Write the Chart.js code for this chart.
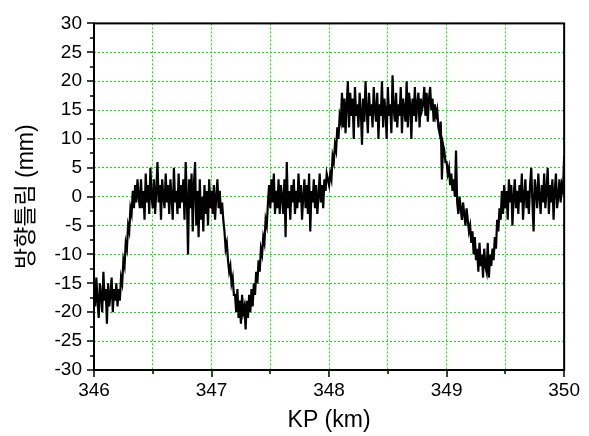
<!DOCTYPE html>
<html>
<head>
<meta charset="utf-8">
<script src="https://cdn.jsdelivr.net/npm/chart.js@4"></script>
<style>
  html, body { margin: 0; padding: 0; background: #fff; }
</style>
</head>
<body>
<canvas id="myChart" width="589" height="436"></canvas>
<script>
// KP positions: one sample every 10 m from 346.00 km
var kpStart = 346.0;
var kpStep = 0.01;

// alignment deviation (mm), one array per kilometre
var dev346 = [
  -16, -19, -14, -18, -21, -15, -17, -20, -13, -18, -16, -22, -15, -19, -17, -14, -20, -16, -18, -15,
  -19, -16, -18, -14, -15, -11, -12, -8, -9, -5, -6, -2, -3, 1, -2, 2, -1, 3, 0, -2,
  3, -2, 1, -4, 4, -1, 2, -3, 5, 0, -2, 3, -3, 1, 6, -1, 2, -4, 3, 0,
  -2, 4, -1, 2, -3, 3, 0, -4, 5, -1, 1, -3, 4, -2, 2, -1, 3, -4, 6, 0,
  -10, 3, -2, 4, -6, 2, 6, -5, 1, -7, 3, -4, 0, -6, 2, -3, 1, -5, 3, -2
];
var dev347 = [
  1, -3, 2, -4, 0, 3, -2, 1, -3, -1, -4, -6, -9, -8, -11, -13, -12, -15, -14, -17,
  -17, -20, -16, -21, -18, -22, -17, -20, -19, -23, -18, -21, -17, -20, -16, -19, -15, -17, -13, -15,
  -11, -13, -9, -10, -7, -8, -4, -5, -1, 2, -2, 3, -1, 4, -3, 1, -2, 3, -3, 2,
  0, -3, 3, -7, 6, -2, 1, -4, 2, -1, 3, -3, 1, -2, 4, -1, 2, -4, 0, 3,
  -2, 2, -3, 4, -6, 1, -1, 3, -2, 2, -3, 0, 4, -1, 2, -2, 3, 1, 4, 3
];
var dev348 = [
  2, 4, 3, 7, 6, 9, 8, 12, 10, 14, 13, 18, 12, 17, 11, 16, 20, 12, 18, 14,
  17, 10, 19, 14, 16, 12, 18, 15, 9, 17, 13, 20, 15, 11, 18, 14, 16, 12, 19, 15,
  13, 18, 10, 16, 14, 20, 12, 17, 15, 10, 19, 14, 16, 11, 21, 15, 13, 18, 12, 16,
  14, 19, 11, 17, 15, 13, 20, 12, 18, 16, 10, 17, 14, 19, 13, 16, 18, 12, 17, 15,
  16, 19, 14, 18, 13, 17, 19, 15, 17, 13, 16, 14, 15, 12, 11, 13, 3, 9, 8, 6
];
var dev349 = [
  6, 4, 5, 2, 4, 1, 3, 0, 8, -1, -3, 0, -2, -4, -1, -3, -5, -2, -4, -6,
  -5, -8, -6, -10, -7, -11, -9, -13, -8, -12, -10, -14, -9, -12, -13, -8, -14, -10, -12, -9,
  -11, -7, -9, -4, -6, -2, -4, 1, -3, 2, -2, 1, -4, 3, -1, 2, -5, 0, 3, -2,
  1, -3, 2, -1, 4, -4, 0, 3, -2, 1, -3, 2, 5, -1, -6, 3, 1, -2, 4, 0,
  -3, 2, -1, 4, -2, 1, 5, -3, 2, -1, 3, -4, 1, 4, -2, 0, 3, -1, 2, 1
];
var dev350 = [7];

var xTicks = [346, 347, 348, 349, 350];
var yTicks = [-30, -25, -20, -15, -10, -5, 0, 5, 10, 15, 20, 25, 30];

var deviation = dev346.concat(dev347, dev348, dev349, dev350);
var points = deviation.map(function (v, i) {
  return { x: +(kpStart + i * kpStep).toFixed(2), y: v };
});

var gridGreen = '#00ee00';
var tickFont = { family: "'Liberation Sans', Arial, sans-serif", size: 19 };
var titleFont = { family: "'Liberation Sans', 'Noto Sans CJK KR', sans-serif", size: 23 };

// box around the plot plus outward tick marks (long on labels, short between)
var frameAndTicks = {
  id: 'frameAndTicks',
  afterDraw: function (chart) {
    var ctx = chart.ctx, a = chart.chartArea;
    var xs = chart.scales.x, ys = chart.scales.y;
    ctx.save();
    ctx.strokeStyle = '#000';
    ctx.lineWidth = 1.5;
    ctx.beginPath();
    for (var v = xTicks[0]; v <= xTicks[xTicks.length - 1] + 0.001; v += 0.5) {
      var px = Math.round(xs.getPixelForValue(v));
      var len = Number.isInteger(v) ? 7 : 4;
      ctx.moveTo(px, a.bottom);
      ctx.lineTo(px, a.bottom + len);
    }
    for (var w = yTicks[0]; w <= yTicks[yTicks.length - 1] + 0.001; w += 2.5) {
      var py = Math.round(ys.getPixelForValue(w));
      var l = (w % 5 === 0) ? 7 : 4;
      ctx.moveTo(a.left, py);
      ctx.lineTo(a.left - l, py);
    }
    ctx.stroke();
    ctx.lineWidth = 2;
    ctx.strokeRect(a.left, a.top, a.right - a.left, a.bottom - a.top);
    ctx.restore();
  }
};

var ctx = document.getElementById('myChart').getContext('2d');
var chart = new Chart(ctx, {
  type: 'line',
  data: {
    datasets: [{
      data: points,
      borderColor: '#000',
      borderWidth: 2.2,
      pointRadius: 0,
      tension: 0,
      fill: false
    }]
  },
  options: {
    responsive: false,
    animation: false,
    events: [],
    layout: { padding: { top: 15, right: 20, bottom: 0, left: 0 } },
    plugins: {
      legend: { display: false },
      tooltip: { enabled: false }
    },
    scales: {
      x: {
        type: 'linear',
        min: 346,
        max: 350,
        afterFit: function (scale) { scale.height = 66; },
        grid: { color: gridGreen, lineWidth: 1, drawTicks: false },
        border: { display: false, dash: [2, 2] },
        ticks: {
          stepSize: 0.5,
          autoSkip: false,
          maxRotation: 0,
          padding: 9,
          color: '#000',
          font: tickFont,
          callback: function (v) { return xTicks.indexOf(v) >= 0 ? String(v) : ''; }
        },
        title: {
          display: true,
          text: 'KP (km)',
          color: '#000',
          font: titleFont,
          padding: { top: 0, bottom: 2 }
        }
      },
      y: {
        min: -30,
        max: 30,
        afterFit: function (scale) { scale.width = 94; },
        grid: { color: gridGreen, lineWidth: 1, drawTicks: false },
        border: { display: false, dash: [2, 2] },
        ticks: {
          stepSize: 5,
          padding: 12,
          color: '#000',
          font: tickFont
        },
        title: {
          display: true,
          text: '방향틀림 (mm)',
          color: '#000',
          font: titleFont,
          padding: { top: 13, bottom: 0 }
        }
      }
    }
  },
  plugins: [frameAndTicks]
});
</script>
</body>
</html>
